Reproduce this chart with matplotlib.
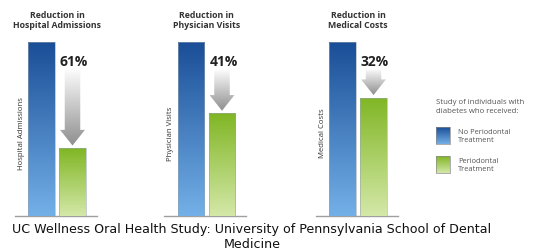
import matplotlib
matplotlib.use("Agg")
import matplotlib.pyplot as plt
import numpy as np
from matplotlib.colors import LinearSegmentedColormap
from matplotlib.patches import Polygon, Rectangle

# data
titles = ["Reduction in\nHospital Admissions", "Reduction in\nPhysician Visits", "Reduction in\nMedical Costs"]
axis_labels = ["Hospital Admissions", "Physician Visits", "Medical Costs"]
no_treatment = [100, 100, 100]
with_treatment = [39, 59, 68]
reductions = ["61%", "41%", "32%"]
legend_title = "Study of individuals with\ndiabetes who received:"
legend_labels = ["No Periodontal\nTreatment", "Periodontal\nTreatment"]
caption = "UC Wellness Oral Health Study: University of Pennsylvania School of Dental\nMedicine"

W, H = 533, 253
BLUE = LinearSegmentedColormap.from_list("blue", ["#74b0e8", "#1a4e97"])
GREEN = LinearSegmentedColormap.from_list("green", ["#d4e8a8", "#80b624"])
GREY = LinearSegmentedColormap.from_list("grey", ["#8e8e8e", "#fbfbfb"])
FONT = "Open Sans"

plt.rcParams["font.family"] = ["Open Sans", "DejaVu Sans"]


def gradient_fill(ax, patch, cmap, extent):
    grad = np.linspace(0, 1, 256).reshape(-1, 1)
    im = ax.imshow(grad, cmap=cmap, extent=extent, origin="lower",
                   aspect="auto", zorder=patch.get_zorder() - 0.1, interpolation="bilinear")
    im.set_clip_path(patch)


fig = plt.figure(figsize=(W / 100, H / 100), dpi=100)

blue_centers = [41.5, 191, 342.5]   # pixel position of each panel
unit = 31.0                          # pixels between bar centres
base_y, top_y = 217, 43
width = 0.85

for i, cx in enumerate(blue_centers):
    left = cx - 0.855 * unit
    ax = fig.add_axes([left / W, (H - base_y) / H, 82 / W, (base_y - top_y) / H])
    bars = ax.bar([0, 1], [no_treatment[i], with_treatment[i]], width=width,
                  facecolor="none", edgecolor="#9aa6b0", linewidth=0.4, zorder=3)
    for bar, cmap in zip(bars, [BLUE, GREEN]):
        x0 = bar.get_x()
        gradient_fill(ax, bar, cmap, (x0, x0 + bar.get_width(), 0, bar.get_height()))

    # arrow showing the reduction
    top = 84
    tip = with_treatment[i] + 1.5
    head = 9
    sw, hw = 0.25, 0.4
    verts = [(1 - sw, top), (1 + sw, top), (1 + sw, tip + head), (1 + hw, tip + head),
             (1, tip), (1 - hw, tip + head), (1 - sw, tip + head)]
    arrow = Polygon(verts, closed=True, facecolor="none", edgecolor="none", zorder=3)
    ax.add_patch(arrow)
    gradient_fill(ax, arrow, GREY, (1 - hw, 1 + hw, tip, top))

    ax.text(1.05, 89, reductions[i], ha="center", va="center", fontsize=10,
            fontweight="bold", color="#222222", family=FONT)
    ax.text(0.5, 113, titles[i], ha="center", va="center", fontsize=6.3,
            fontweight="bold", color="#333333", linespacing=1.25, clip_on=False)
    ax.text(-0.66, 48, axis_labels[i], rotation=90, ha="center", va="center",
            fontsize=5.6, color="#333333")

    ax.set_xlim(-0.855, 1.79)
    ax.set_ylim(0, 100)
    ax.set_xticks([])
    ax.set_yticks([])
    for side in ["top", "left", "right"]:
        ax.spines[side].set_visible(False)
    ax.spines["bottom"].set_color("#a0a0a0")
    ax.spines["bottom"].set_linewidth(1.0)
    ax.patch.set_alpha(0)

# legend drawn in its own pixel-space axes
lax = fig.add_axes([415 / W, (H - 185) / H, 118 / W, 90 / H])
lax.axis("off")
lax.text(436, 107, legend_title, ha="left", va="center", fontsize=5.6,
         color="#555555", linespacing=1.3)
for k, (cmap, label) in enumerate(zip([BLUE, GREEN], legend_labels)):
    y0 = 128 + k * 29
    rect = Rectangle((436, y0), 14, 17, facecolor="none", edgecolor="#8a8a8a",
                     linewidth=0.5, zorder=3)
    lax.add_patch(rect)
    grad = np.linspace(0, 1, 256).reshape(-1, 1)
    im = lax.imshow(grad, cmap=cmap, extent=(436, 450, y0 + 17, y0), origin="lower",
                    aspect="auto", zorder=2)
    im.set_clip_path(rect)
    lax.text(458, y0 + 8.5, label, ha="left", va="center", fontsize=5.4,
             color="#555555", linespacing=1.3)
lax.set_xlim(415, 533)
lax.set_ylim(185, 95)

fig.text(252 / W, (H - 237) / H, caption, ha="center", va="center", fontsize=9.1,
         family="DejaVu Sans", color="#111111", linespacing=1.2)

fig.savefig("out.png", dpi=100, facecolor="white")
